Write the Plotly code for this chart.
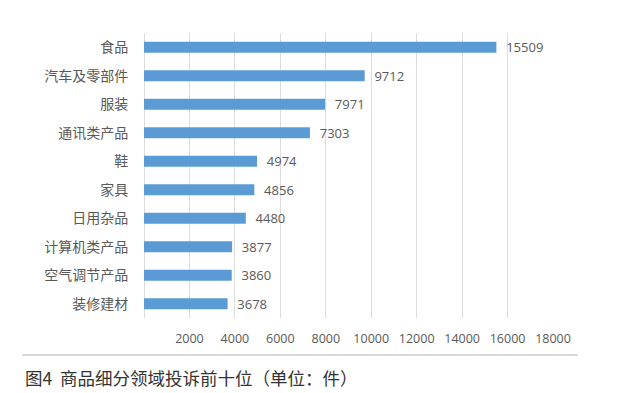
import plotly.graph_objects as go

categories = ["食品", "汽车及零部件", "服装", "通讯类产品", "鞋", "家具", "日用杂品", "计算机类产品", "空气调节产品", "装修建材"]
values = [15509, 9712, 7971, 7303, 4974, 4856, 4480, 3877, 3860, 3678]
tick_vals = [2000, 4000, 6000, 8000, 10000, 12000, 14000, 16000, 18000]
caption = "图4  商品细分领域投诉前十位（单位：件）"

L, R, T, B = 144, 87, 33, 75
W, H = 640, 393
pw = W - L - R
ph = H - T - B

fig = go.Figure(go.Bar(
    x=values, y=categories, orientation="h",
    marker=dict(color="#5B9BD5", line=dict(color="#5B9BD5", width=0)),
    text=[f"{v}" for v in values],
    texttemplate="  %{text}",
    textposition="outside",
    constraintext="none",
    textfont=dict(family="Open Sans, Noto Sans CJK SC", size=13, color="#595959"),
    cliponaxis=False,
    width=0.38,
))

fig.update_layout(
    width=W, height=H,
    margin=dict(l=L, r=R, t=T, b=B, autoexpand=False),
    plot_bgcolor="white", paper_bgcolor="white",
    showlegend=False,
    font=dict(family="Noto Sans CJK SC", color="#595959"),
)
fig.update_xaxes(
    range=[0, 18000], tickvals=tick_vals, ticktext=[str(t) for t in tick_vals],
    showgrid=True, gridcolor="#dcdcdc", gridwidth=1,
    zeroline=True, zerolinecolor="#dcdcdc", zerolinewidth=1,
    showline=False, automargin=False,
    ticks="outside", ticklen=9, tickcolor="rgba(0,0,0,0)",
    tickfont=dict(family="Open Sans, Noto Sans CJK SC", size=12.5, color="#595959"),
    fixedrange=True,
)
fig.update_yaxes(
    autorange="reversed", automargin=False,
    ticks="outside", ticklen=12, tickcolor="rgba(0,0,0,0)",
    tickfont=dict(family="Noto Sans CJK SC", size=14, color="#595959"),
    showgrid=False, showline=False,
)

# divider line and caption
fig.add_shape(type="line", xref="paper", yref="paper",
              x0=(22 - L) / pw, x1=(578 - L) / pw,
              y0=-(355 - (H - B)) / ph, y1=-(355 - (H - B)) / ph,
              line=dict(color="#d9d9d9", width=2))
fig.add_annotation(text=caption, xref="paper", yref="paper",
                   x=(23 - L) / pw, y=-(377 - (H - B)) / ph,
                   xanchor="left", yanchor="middle", showarrow=False,
                   font=dict(family="Noto Sans CJK SC", size=17.5, color="#333333"))

fig.write_html("out.html", config={"displayModeBar": False},
               post_script="document.body.style.margin='0';document.body.style.overflow='hidden';")
